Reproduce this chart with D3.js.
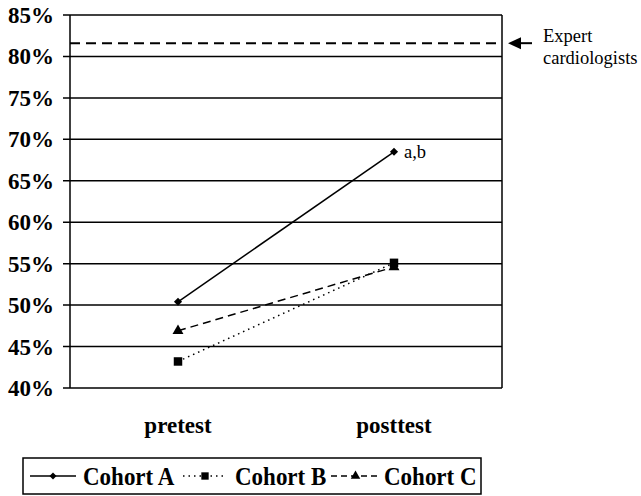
<!DOCTYPE html>
<html><head><meta charset="utf-8">
<script src="https://cdn.jsdelivr.net/npm/d3@7"></script>
<style>body{margin:0;background:#fff}svg{display:block}</style>
</head><body><svg id="c" width="641" height="496"></svg>
<script>
const phases = ["pretest", "posttest"];
const cohortA = [50.4, 68.5];
const cohortB = [43.2, 55.1];
const cohortC = [46.9, 54.6];
const seriesNames = ["Cohort A", "Cohort B", "Cohort C"];
const expertValue = 81.6;
const yTicks = [40, 45, 50, 55, 60, 65, 70, 75, 80, 85];

const svg = d3.select("#c");
const M = {l: 70, r: 502, t: 15, b: 388};
const x = d3.scalePoint().domain(phases).range([M.l, M.r]).padding(0.5);
const y = d3.scaleLinear().domain([40, 85]).range([M.b, M.t]);
const serif = "'Liberation Serif','Times New Roman',serif";

// gridlines
svg.append("g").selectAll("line").data(yTicks).join("line")
  .attr("x1", M.l - 7).attr("x2", M.r)
  .attr("y1", d => y(d)).attr("y2", d => y(d))
  .attr("stroke", "#000").attr("stroke-width", 1.5);
svg.append("line").attr("x1", M.l).attr("x2", M.l).attr("y1", M.t).attr("y2", M.b).attr("stroke", "#000").attr("stroke-width", 1.5);
svg.append("line").attr("x1", M.r).attr("x2", M.r).attr("y1", M.t).attr("y2", M.b).attr("stroke", "#000").attr("stroke-width", 1.5);

// y tick labels
svg.append("g").selectAll("text").data(yTicks).join("text")
  .attr("x", 54).attr("y", d => y(d) + 8)
  .attr("text-anchor", "end")
  .attr("font-family", serif).attr("font-weight", "bold").attr("font-size", 23)
  .text(d => d + "%");

// x labels
svg.append("g").selectAll("text").data(phases).join("text")
  .attr("x", d => x(d)).attr("y", 433)
  .attr("text-anchor", "middle")
  .attr("font-family", serif).attr("font-weight", "bold").attr("font-size", 23)
  .text(d => d);

// expert line
const ey = y(expertValue);
svg.append("line").attr("x1", M.l).attr("x2", M.r)
  .attr("y1", ey).attr("y2", ey)
  .attr("stroke", "#000").attr("stroke-width", 2).attr("stroke-dasharray", "10,6");
svg.append("line").attr("x1", 516).attr("x2", 532).attr("y1", ey).attr("y2", ey).attr("stroke", "#000").attr("stroke-width", 2);
svg.append("path").attr("d", `M508,${ey} L521,${ey-6} L521,${ey+6} Z`).attr("fill", "#000");
svg.append("text").attr("x", 543).attr("y", 42).attr("font-family", serif).attr("font-size", 18.5).text("Expert");
svg.append("text").attr("x", 543).attr("y", 64).attr("font-family", serif).attr("font-size", 18.5).text("cardiologists");

const series = [
  {name: seriesNames[0], vals: cohortA, dash: null, sym: d3.symbolDiamond2, size: 42},
  {name: seriesNames[1], vals: cohortB, dash: "1.5,4", sym: d3.symbolSquare, size: 72},
  {name: seriesNames[2], vals: cohortC, dash: "8,5", sym: d3.symbolTriangle, size: 52}
];
const line = d3.line().x((d, i) => x(phases[i])).y(d => y(d));
series.forEach(s => {
  svg.append("path").attr("d", line(s.vals)).attr("fill", "none")
    .attr("stroke", "#000").attr("stroke-width", 1.5)
    .attr("stroke-dasharray", s.dash);
  svg.append("g").selectAll("path").data(s.vals).join("path")
    .attr("transform", (d, i) => `translate(${x(phases[i])},${y(d)})`)
    .attr("d", d3.symbol().type(s.sym).size(s.size)).attr("fill", "#000");
});
svg.append("text").attr("x", x(phases[1]) + 10).attr("y", y(cohortA[1]) + 6)
  .attr("font-family", serif).attr("font-size", 18.5).text("a,b");

// legend
const lg = svg.append("g");
lg.append("rect").attr("x", 23).attr("y", 458).attr("width", 458).attr("height", 36)
  .attr("fill", "none").attr("stroke", "#000").attr("stroke-width", 1.5);
const legendPos = [{x0: 30, x1: 76, tx: 83}, {x0: 183, x1: 227, tx: 235}, {x0: 331, x1: 380, tx: 384}];
const legendDash = [null, "1.5,4", "6,4"];
series.forEach((s, i) => {
  const p = legendPos[i];
  const ly = 476;
  lg.append("line").attr("x1", p.x0).attr("x2", p.x1).attr("y1", ly).attr("y2", ly)
    .attr("stroke", "#000").attr("stroke-width", 1.5).attr("stroke-dasharray", legendDash[i]);
  lg.append("path").attr("transform", `translate(${(p.x0 + p.x1) / 2},${ly})`)
    .attr("d", d3.symbol().type(s.sym).size(s.size * 0.75)).attr("fill", "#000");
  lg.append("text").attr("transform", `translate(${p.tx},485) scale(1,1.12)`)
    .attr("font-family", serif).attr("font-weight", "bold").attr("font-size", 23).text(s.name);
});
</script></body></html>
